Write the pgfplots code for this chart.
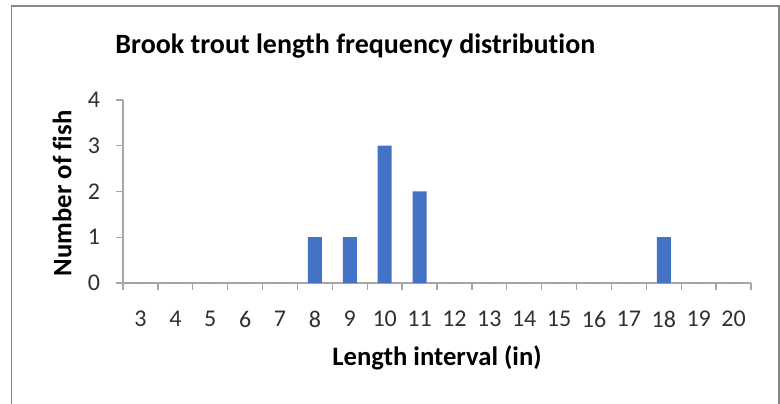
\documentclass[border=0pt]{standalone}
\usepackage{fontspec}
\setmainfont{Carlito}[Ligatures=NoCommon]
\usepackage{pgfplots}
\pgfplotsset{compat=1.18}
\definecolor{barblue}{HTML}{4472C4}
\definecolor{axgray}{HTML}{A6A6A6}
\definecolor{framegray}{HTML}{888888}
\definecolor{txt}{HTML}{303030}
\begin{document}
\begin{tikzpicture}
\useasboundingbox (0pt,0pt) rectangle (585pt,302.25pt);
\draw[framegray, line width=1.2pt] (8.625pt,-10pt) -- (8.625pt,297.75pt) -- (584.25pt,297.75pt) -- (584.25pt,-10pt);
\begin{axis}[
  at={(92.25pt,90pt)}, anchor=south west,
  scale only axis, width=471pt, height=137.25pt,
  xmin=2.5, xmax=20.5, ymin=0, ymax=4,
  axis lines=left, axis line style={-, draw=axgray, line width=1pt},
  tick align=outside, major tick length=5.25pt,
  tick style={draw=axgray, line width=1pt},
  ytick={0,1,2,3,4},
  xtick={2.5,3.5,...,20.5}, xticklabels={},
  extra x ticks={3,4,5,6,7,8,9,10,11,12,13,14,15,16,17,18,19,20},
  extra x tick labels={3,4,5,6,7,8,9,10,11,12,13,14,15,16,17,18,19,20},
  extra x tick style={major tick length=0pt, tick style={draw=none}},
  tick label style={font=\fontsize{18pt}{20pt}\selectfont, text=txt},
  /pgf/number format/assume math mode=true,
  xticklabel style={yshift=-17.5pt},
  yticklabel style={xshift=-8.5pt},
  title={Brook trout length frequency distribution},
  title style={font=\fontsize{21pt}{24pt}\selectfont\bfseries, text=black, at={(axis description cs:0.370,1.252)}, anchor=center},
  xlabel={Length interval (in)},
  xlabel style={font=\fontsize{20pt}{22pt}\selectfont\bfseries, text=black, at={(axis description cs:0.5,-0.408)}, anchor=center},
  ylabel={Number of fish},
  ylabel style={font=\fontsize{20pt}{22pt}\selectfont\bfseries, text=black, at={(axis description cs:-0.097,0.49)}, anchor=center},
  clip=false,
]
\addplot[ybar, bar width=10.5pt, fill=barblue, draw=none, bar shift=0pt] coordinates {
  (3,0) (4,0) (5,0) (6,0) (7,0) (8,1) (9,1) (10,3) (11,2) (12,0) (13,0) (14,0) (15,0) (16,0) (17,0) (18,1) (19,0) (20,0)
};
\end{axis}
\end{tikzpicture}
\end{document}
